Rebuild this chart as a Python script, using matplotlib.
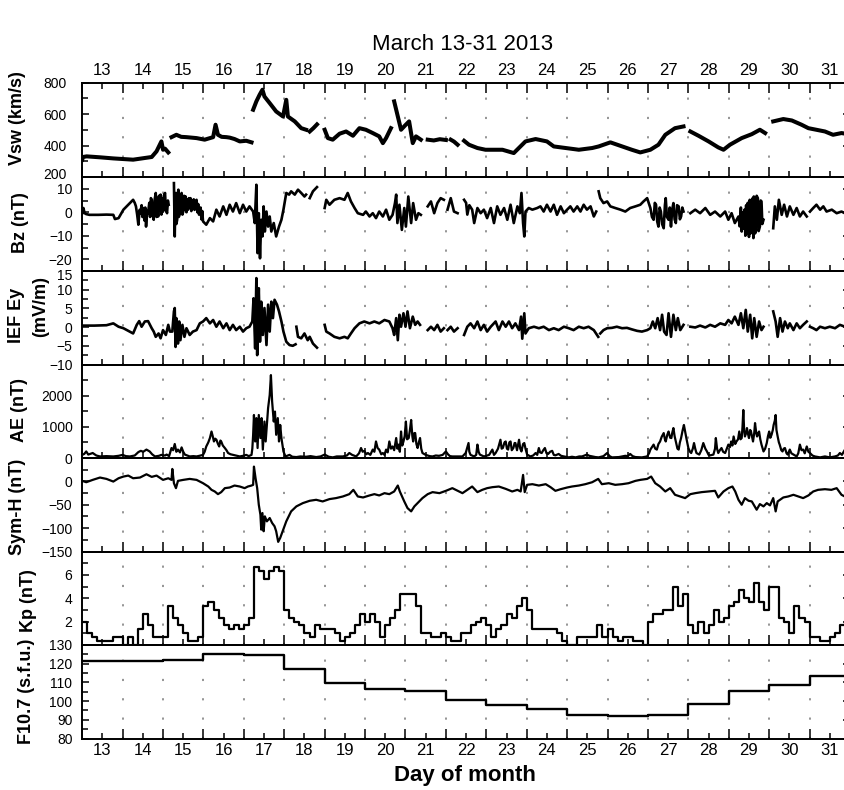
import numpy as np
import matplotlib
matplotlib.use('Agg')
import matplotlib.pyplot as plt
from matplotlib.ticker import MultipleLocator, FixedLocator, FixedFormatter, NullFormatter
from matplotlib.transforms import ScaledTranslation

plt.rcParams['font.family'] = ['Liberation Sans', 'DejaVu Sans']
nan = float('nan')

# ---------------- data (day of March 2013, value) ----------------
vsw_day = [13.0, 13.02, 13.11, 13.44, 13.77, 14.02, 14.26, 14.47, 14.72, 14.84, 14.92, 14.96, 15.0, 15.05, 15.13, 15.17,
           15.21, 15.33, 15.45, 15.58, 15.7, 15.83, 16.03, 16.24, 16.3, 16.36, 16.45, 16.57, 16.65, 16.77, 16.9, 17.06, 17.19, 17.21,
           17.23, 17.31, 17.39, 17.46, 17.51, 17.64, 17.8, 17.97, 18.05, 18.09, 18.26, 18.42, 18.54, 18.58,
           18.63, 18.72, 18.81, 18.9,
           19.0, 19.08, 19.2, 19.37, 19.53, 19.7, 19.86, 20.02, 20.19, 20.35, 20.44, 20.52, 20.64, 20.68,
           20.72, 20.81, 20.89, 21.0, 21.09, 21.18, 21.26, 21.38, 21.45,
           21.55, 21.7, 21.85, 22.0, 22.05, 22.12, 22.2, 22.29, 22.35,
           22.45, 22.57, 22.78, 22.98, 23.15, 23.4, 23.68, 23.97, 24.22, 24.5, 24.67, 24.96, 25.29, 25.62, 25.78, 26.07,
           26.36, 26.6, 26.81, 27.06, 27.26, 27.43, 27.67, 27.88, 27.95,
           28.05, 28.25, 28.5, 28.74, 28.87, 29.03, 29.32, 29.57, 29.77, 29.9, 30.0,
           30.1, 30.35, 30.56, 30.8, 30.97, 31.17, 31.38, 31.58, 31.79, 32.0]
vsw_val = [310, 327, 331, 325, 318, 314, 310, 318, 327, 363, 405, 426, 373, 380, 356, nan,
           453, 468, 455, 453, 450, 447, 437, 453, 532, 468, 455, 453, 450, 441, 426, 430, 420, nan,
           627, 680, 722, 754, 711, 669, 616, 584, 690, 584, 553, 510, 500, nan,
           489, 510, 534, nan,
           500, 447, 437, 475, 489, 462, 510, 500, 479, 458, 415, 447, 510, nan,
           680, 584, 500, 530, 553, 415, 458, 437, nan,
           437, 432, 440, 435, nan, 437, 425, 405, nan,
           430, 405, 384, 373, 373, 373, 352, 426, 441, 426, 394, 384, 373, 384, 394, 420,
           394, 373, 356, 373, 405, 468, 510, 521, nan,
           489, 462, 426, 388, 373, 405, 447, 472, 500, 479, nan,
           553, 568, 559, 532, 510, 500, 489, 468, 479, 470]

bz_day = [13.0, 13.03, 13.06, 13.1, 13.18, 13.4, 13.6, 13.77, 13.81, 13.9, 14.02, 14.1, 14.18, 14.26,
          14.30, 14.33, 14.36, 14.39, 14.42, 14.44, 14.47, 14.49, 14.51, 14.54, 14.56, 14.58, 14.61, 14.63, 14.66, 14.68,
          14.70, 14.72, 14.74, 14.77, 14.79, 14.82, 14.84, 14.86, 14.88, 14.90, 14.92, 14.94, 14.96, 14.98, 15.0, 15.02,
          15.05, 15.07, 15.1, 15.12, 15.14, 15.2,
          15.27, 15.28, 15.29, 15.30, 15.32, 15.33, 15.35, 15.36, 15.38, 15.39, 15.42, 15.43, 15.45, 15.46, 15.48, 15.5,
          15.52, 15.54, 15.56, 15.58, 15.60, 15.62, 15.64, 15.66, 15.68, 15.70, 15.72, 15.74, 15.76, 15.78, 15.80, 15.83,
          15.85, 15.87, 15.89, 15.91, 15.93, 15.95, 15.97, 15.99, 16.07,
          16.16, 16.24, 16.32, 16.4, 16.49, 16.57, 16.65, 16.73, 16.81, 16.9, 16.98, 17.06, 17.14, 17.23, 17.27, 17.31,
          17.34, 17.37, 17.4, 17.43, 17.46, 17.49, 17.52, 17.56, 17.6, 17.64, 17.68, 17.74, 17.8, 17.87, 17.93, 17.98,
          18.05, 18.12, 18.17, 18.26, 18.34, 18.42, 18.5, 18.54, 18.58, 18.63, 18.71, 18.81, 18.9,
          19.0, 19.04, 19.12, 19.24, 19.37, 19.49, 19.57, 19.65, 19.74, 19.82, 19.95, 20.02, 20.11, 20.19, 20.27, 20.35,
          20.44, 20.52, 20.6, 20.68, 20.74, 20.77, 20.8, 20.85, 20.91, 20.97, 21.01, 21.07, 21.14, 21.19, 21.26, 21.32,
          21.38, 21.45, 21.55, 21.63, 21.71, 21.79, 21.87, 21.95, 22.0, 22.04, 22.12, 22.2, 22.29, 22.37,
          22.45, 22.5, 22.53, 22.58, 22.65, 22.7, 22.78, 22.86, 22.94, 23.02, 23.11, 23.19, 23.27, 23.35, 23.44, 23.52,
          23.6, 23.68, 23.77, 23.83, 23.87, 23.91, 23.94, 23.97, 24.05, 24.14, 24.26, 24.34, 24.42, 24.5, 24.59, 24.67,
          24.75, 24.84, 24.92, 25.0, 25.08, 25.16, 25.25, 25.33, 25.41, 25.49, 25.58, 25.66, 25.72, 25.75, 25.78, 25.82,
          25.9, 25.99, 26.07, 26.19, 26.32, 26.44, 26.56, 26.69, 26.81, 26.89, 26.98,
          27.06, 27.1, 27.14, 27.17, 27.2, 27.23, 27.26, 27.29, 27.32, 27.35, 27.39, 27.42, 27.44, 27.47, 27.51, 27.54,
          27.57, 27.6, 27.63, 27.66, 27.69, 27.72, 27.76, 27.79, 27.82, 27.85, 27.88, 27.95,
          28.05, 28.17, 28.29, 28.42, 28.54, 28.66, 28.79, 28.91, 28.99, 29.07, 29.15,
          29.24, 29.27, 29.30, 29.32, 29.34, 29.36, 29.39, 29.41, 29.43, 29.45, 29.47, 29.50, 29.52, 29.54, 29.57, 29.59,
          29.61, 29.62, 29.65, 29.67, 29.69, 29.72, 29.74, 29.77, 29.79, 29.81, 29.83, 29.86, 29.95,
          30.1, 30.14, 30.19, 30.24, 30.31, 30.37, 30.44, 30.51, 30.6, 30.68, 30.76, 30.84, 30.93, 30.97, 31.01, 31.09,
          31.17, 31.26, 31.34, 31.42, 31.55, 31.67, 31.79, 31.87, 32.0]
bz_val = [-0.4, 1.8, -0.4, -0.8, -1.1, -1.1, -1.0, -1.1, -2.9, -2.5, 1.1, 2.5, 3.9, 5.3,
          4.0, 2.5, -1.0, -5.3, 1.0, -0.4, 3.0, -2.0, 1.8, -3.5, 2.0, -6.1, 0.5, -0.4, 4.0, -2.0,
          6.0, 5.3, -1.0, -3.2, 5.0, 8.2, -2.0, 6.0, -1.8, 7.0, 2.0, 7.5, -1.0, 6.0, 0.3, 7.0,
          8.2, 1.0, -0.4, 5.0, 3.2, nan,
          12.4, 2.0, -10.3, 0.0, 8.2, -5.0, -3.2, 6.0, 9.6, -2.0, -0.4, 7.0, 2.0, 8.2, -1.0, 0.3,
          7.0, 1.0, 6.7, 0.0, 5.5, 1.1, 6.0, 2.0, 6.0, 0.5, 5.0, 1.8, 5.5, 1.0, 4.5, 5.3,
          0.0, 3.5, -1.0, -0.4, 2.0, -3.0, 0.5, -3.9, -5.3,
          -2.5, -3.9, 1.1, -1.8, 2.5, -1.1, 3.2, 0.3, 3.9, -0.4, 3.2, 0.3, 2.5, 0.3, -4.6, 11.7,
          -17.4, -0.4, -19.6, -3.2, -10.3, 2.5, -8.2, 0.3, -6.1, -1.8, -8.2, -4.6, -10.3, -6.1, -3.2, 1.1,
          8.2, 7.5, 8.9, 7.5, 9.6, 8.2, 6.7, 7.5, nan, 6.0, 8.9, 10.7, nan,
          1.8, 5.3, 3.2, 5.3, 6.0, 5.3, 8.2, 4.6, 1.8, -0.4, -1.1, 0.3, -1.8, -0.4, -2.5, 0.3,
          -1.8, 1.1, -3.2, -1.1, 3.9, 7.5, -4.6, 3.2, -7.5, 1.8, -6.1, 6.7, -4.6, 3.9, -3.2, -0.4,
          -1.1, nan, 2.5, 4.6, -0.4, 3.9, 6.0, 5.3, nan, 1.1, 6.0, 0.3, -0.4, nan,
          5.3, 4.0, -1.0, 3.0, 1.1, -4.6, 1.8, -0.4, 1.1, -2.5, 1.8, -4.6, 2.5, -1.1, 1.8, -3.2,
          3.2, -4.6, 2.5, -0.4, 8.2, -4.6, -10.3, 0.3, 1.8, 1.1, 1.8, 2.5, 0.3, 3.2, 0.3, 3.2,
          -1.1, 2.5, -0.4, 1.1, 2.5, 0.3, 2.5, 0.3, 3.2, 1.1, 2.5, -1.8, 0.3, nan, 8.9, 6.0,
          3.9, 4.6, 2.5, 1.8, 1.1, 0.3, 1.8, 2.5, 3.2, 4.6, 6.0,
          1.8, -2.0, -3.2, 4.0, 3.2, -4.0, -6.1, 2.0, 0.3, -5.0, -6.8, 3.0, 6.0, -2.0, -3.2, 2.0,
          -6.1, 1.0, 3.9, -3.0, -4.6, 3.0, 2.5, -3.0, -1.8, 2.0, 0.3, nan,
          -0.4, 1.1, -0.4, 1.8, -1.1, 0.3, -1.8, 0.3, -3.2, -0.4, -4.6,
          -1.8, -6.0, 2.0, -8.2, 0.0, -7.0, 1.1, -10.0, 3.0, -8.9, 4.0, -10.5, 5.3, -9.0, -7.5, 6.0,
          -11.0, 6.7, -9.0, -8.2, 7.0, 6.0, -8.0, -6.1, 5.0, 4.6, -5.0, -3.2, nan,
          -6.8, 2.5, -3.2, 5.3, -1.1, 3.2, -1.8, 2.5, -1.1, 1.8, -1.8, 0.3, -1.8, nan, 0.3, 1.8,
          3.2, 1.1, 2.5, 0.3, 1.1, -0.4, 0.3, -0.4, 0.3]

ey_day = [13.0, 13.3, 13.6, 13.77, 13.9, 14.02, 14.14, 14.26, 14.35, 14.41, 14.47, 14.55, 14.63, 14.72, 14.77, 14.82,
          14.89, 14.94, 15.0, 15.07, 15.13, 15.17, 15.23, 15.27, 15.29, 15.31, 15.33, 15.37, 15.4, 15.43, 15.48, 15.53,
          15.58, 15.66, 15.74, 15.83, 15.91, 15.99, 16.07, 16.16, 16.24, 16.32, 16.4, 16.49, 16.57, 16.65, 16.73, 16.81,
          16.9, 16.98, 17.06, 17.14, 17.21, 17.24, 17.28, 17.31, 17.33, 17.37, 17.4, 17.43, 17.47, 17.51, 17.56, 17.6,
          17.64, 17.68, 17.72, 17.76, 17.82, 17.87, 17.93, 17.98, 18.05, 18.13, 18.21, 18.28, 18.29,
          18.3, 18.34, 18.42, 18.5, 18.58, 18.63, 18.71, 18.81, 18.9,
          19.0, 19.04, 19.12, 19.24, 19.37, 19.49, 19.57, 19.65, 19.74, 19.86, 19.98, 20.11, 20.23, 20.35, 20.48, 20.6,
          20.68, 20.72, 20.77, 20.81, 20.85, 20.89, 20.95, 21.0, 21.05, 21.11, 21.18, 21.24, 21.3, 21.36, 21.45,
          21.55, 21.63, 21.71, 21.79, 21.87, 21.95, 22.0, 22.04, 22.12, 22.2, 22.29, 22.37,
          22.45, 22.53, 22.61, 22.7, 22.78, 22.86, 22.94, 23.02, 23.11, 23.23, 23.31, 23.4, 23.48, 23.56, 23.64, 23.72,
          23.81, 23.86, 23.89, 23.94, 23.97, 24.05, 24.18, 24.3, 24.42, 24.55, 24.67, 24.79, 24.92, 25.04, 25.16, 25.29,
          25.41, 25.53, 25.66, 25.77, 25.8, 25.82, 25.9, 25.99, 26.11, 26.23, 26.36, 26.48, 26.6, 26.73, 26.85, 26.98,
          27.06, 27.12, 27.18, 27.24, 27.3, 27.35, 27.4, 27.46, 27.51, 27.57, 27.63, 27.69, 27.74, 27.8, 27.88, 27.95,
          28.05, 28.17, 28.29, 28.42, 28.54, 28.66, 28.79, 28.91, 28.99, 29.07, 29.15, 29.24, 29.3, 29.36, 29.42, 29.47,
          29.53, 29.58, 29.63, 29.69, 29.75, 29.81, 29.86, 29.95,
          30.1, 30.16, 30.21, 30.27, 30.33, 30.39, 30.46, 30.51, 30.6, 30.68, 30.76, 30.84, 30.93, 30.97, 31.01, 31.09,
          31.17, 31.26, 31.38, 31.5, 31.63, 31.75, 31.87, 32.0]
ey_val = [0.4, 0.4, 0.5, 1.0, 0.1, -0.3, -1.0, -1.7, 0.6, 1.6, 0.1, 1.5, 1.6, -0.3, -1.2, -2.6,
          -1.7, -3.0, -0.8, -2.1, 0.6, -1.2, -1.2, 4.2, 5.1, -5.3, 2.4, -4.4, 1.5, -3.5, 0.6, -2.6,
          -0.3, -2.1, -1.2, -0.8, 1.0, 1.5, 2.4, 1.0, 1.9, 0.1, 1.5, -0.3, 1.0, -0.8, 0.6, -0.8,
          0.1, -1.2, -0.3, 0.1, 1.5, 7.7, -5.7, 13.1, -7.5, 10.4, -3.9, 6.8, -2.1, 5.1, -4.8, 6.0,
          -1.2, 6.8, 2.4, 7.3, 6.0, 4.2, 1.5, -1.2, -3.9, -4.8, -5.0, -4.6, nan,
          0.1, -2.6, -3.0, -1.7, -3.5, -2.6, -4.4, -5.5, nan,
          0.6, -1.2, -1.7, -2.6, -3.0, -2.6, -3.0, -1.7, -0.3, 1.0, 1.5, 1.0, 1.5, 1.0, 1.9, 1.5,
          -0.3, -2.1, 2.4, -3.5, 3.3, 0.1, 3.7, 0.1, 4.2, -0.3, 2.8, 0.6, 1.5, 0.6, nan,
          -0.8, 0.1, -0.8, 0.6, -1.2, -0.3, nan, -0.8, 0.1, -1.2, -0.3, nan,
          -2.1, 0.1, 1.0, -0.3, 1.5, -0.8, 0.6, -1.2, 0.1, 1.5, -0.8, 1.5, 0.1, 1.5, -0.3, 1.0,
          -0.8, 2.8, -3.1, 3.7, -1.7, -0.3, 0.1, -0.3, 0.1, -0.8, -0.3, -0.8, 0.1, -0.3, -0.8, 0.1,
          -0.3, 0.1, -0.8, -2.6, nan, -1.7, -0.8, -0.3, -0.2, 0.1, -0.3, -0.2, -0.6, -1.0, -1.2, -0.8,
          -0.3, 1.5, -0.3, 2.4, -0.8, 3.3, -1.2, -2.1, 3.7, -2.6, 3.3, -0.8, 2.4, -0.8, 0.6, nan,
          0.1, -0.1, 0.4, -0.1, 0.6, 0.1, 1.0, 0.6, 1.9, 1.0, 2.8, 0.6, 3.7, -0.3, 4.6, -1.2,
          3.3, -3.0, 2.4, -2.6, 1.5, -0.8, 0.1, nan,
          4.2, 1.5, -2.6, 2.4, -1.2, 1.5, -0.3, 1.0, -0.8, 1.0, -0.3, 0.6, 1.5, nan, 0.1, -0.3,
          -0.8, 0.1, -0.3, 0.1, -0.3, 0.6, 0.1, 0.2]

ae_day = [13.0, 13.05, 13.1, 13.15, 13.26, 13.35, 13.44, 13.6, 13.77, 13.9, 14.0, 14.08, 14.18, 14.3, 14.39, 14.45,
          14.51, 14.59, 14.67, 14.73, 14.8, 14.9, 14.96, 15.05, 15.09, 15.15, 15.21, 15.25, 15.29, 15.33, 15.37, 15.42,
          15.46, 15.5, 15.54, 15.6, 15.66, 15.75, 15.83, 15.9, 15.99, 16.03, 16.07, 16.12, 16.16, 16.2, 16.23, 16.26,
          16.29, 16.32, 16.36, 16.39, 16.42, 16.44, 16.48, 16.53, 16.57, 16.61, 16.67, 16.73, 16.8, 16.9, 16.98, 17.06,
          17.12, 17.19, 17.21, 17.23, 17.25, 17.28, 17.31, 17.34, 17.37, 17.41, 17.44, 17.47, 17.51, 17.54, 17.57, 17.6,
          17.64, 17.67, 17.7, 17.74, 17.77, 17.8, 17.84, 17.87, 17.9, 17.93, 17.98, 18.03, 18.13, 18.2, 18.3, 18.4,
          18.54, 18.65, 18.79, 18.9, 19.0, 19.1, 19.2, 19.3, 19.45, 19.55, 19.61, 19.68, 19.78, 19.85, 19.9, 19.94,
          19.98, 20.03, 20.07, 20.13, 20.19, 20.23, 20.27, 20.31, 20.35, 20.4, 20.44, 20.48, 20.52, 20.56, 20.6, 20.64,
          20.68, 20.72, 20.77, 20.8, 20.83, 20.86, 20.89, 20.92, 20.95, 20.98, 21.01, 21.04, 21.08, 21.11, 21.14, 21.17,
          21.19, 21.22, 21.24, 21.27, 21.3, 21.33, 21.36, 21.39, 21.42, 21.5, 21.6, 21.67, 21.75, 21.83, 21.92, 22.0,
          22.05, 22.1, 22.16, 22.29, 22.41, 22.49, 22.56, 22.58, 22.61, 22.7, 22.75, 22.78, 22.81, 22.84, 22.94, 23.0,
          23.07, 23.15, 23.19, 23.23, 23.29, 23.35, 23.38, 23.41, 23.45, 23.48, 23.51, 23.54, 23.57, 23.6, 23.63, 23.67,
          23.7, 23.72, 23.76, 23.81, 23.84, 23.87, 23.91, 23.94, 23.97, 24.01, 24.09, 24.16, 24.22, 24.26, 24.3, 24.33,
          24.37, 24.41, 24.45, 24.49, 24.53, 24.58, 24.63, 24.67, 24.71, 24.79, 24.85, 24.92, 25.04, 25.12, 25.21, 25.3,
          25.37, 25.49, 25.55, 25.62, 25.7, 25.78, 25.9, 25.99, 26.05, 26.11, 26.28, 26.36, 26.44, 26.5, 26.56, 26.62,
          26.69, 26.85, 26.98, 27.03, 27.06, 27.1, 27.14, 27.18, 27.22, 27.26, 27.3, 27.34, 27.39, 27.42, 27.44, 27.48,
          27.51, 27.55, 27.58, 27.6, 27.63, 27.66, 27.69, 27.73, 27.76, 27.79, 27.82, 27.86, 27.89, 27.92, 27.95, 27.98,
          28.0, 28.04, 28.07, 28.11, 28.14, 28.17, 28.2, 28.27, 28.32, 28.37, 28.42, 28.46, 28.5, 28.54, 28.62, 28.66,
          28.68, 28.71, 28.74, 28.78, 28.82, 28.86, 28.91, 28.95, 28.99, 29.03, 29.06, 29.09, 29.12, 29.16, 29.19, 29.23,
          29.26, 29.29, 29.32, 29.34, 29.36, 29.38, 29.4, 29.43, 29.45, 29.48, 29.5, 29.53, 29.55, 29.58, 29.6, 29.63,
          29.65, 29.68, 29.7, 29.73, 29.75, 29.78, 29.81, 29.86, 29.9, 29.94, 29.97, 30.0, 30.03, 30.06, 30.09, 30.11,
          30.14, 30.16, 30.18, 30.21, 30.24, 30.26, 30.3, 30.33, 30.36, 30.39, 30.43, 30.46, 30.51, 30.55, 30.6, 30.68,
          30.72, 30.76, 30.8, 30.84, 30.88, 30.93, 30.97, 31.01, 31.07, 31.13, 31.26, 31.38, 31.5, 31.63, 31.7, 31.75,
          31.8, 31.87, 31.92, 32.0]
ae_val = [100, 130, 210, 110, 160, 80, 50, 60, 50, 70, 100, 60, 50, 80, 190, 230,
          200, 270, 210, 120, 50, 70, 100, 80, 110, 60, 320, 250, 450, 200, 270, 180,
          340, 200, 110, 80, 50, 60, 50, 70, 100, 200, 370, 500, 640, 850, 700, 530,
          620, 590, 450, 370, 560, 530, 400, 320, 250, 160, 120, 100, 80, 50, 70, 100,
          60, 100, 300, 745, 1380, 530, 1280, 320, 1380, 640, 1280, 270, 1170, 530, 1060, 1600,
          2020, 2660, 1810, 1170, 1490, 745, 1280, 530, 1060, 640, 210, 50, 100, 40, 30, 50,
          40, 60, 30, 50, 110, 40, 20, 50, 50, 80, 160, 100, 50, 150, 320, 200,
          230, 120, 160, 100, 270, 200, 530, 320, 270, 120, 160, 100, 270, 180, 530, 300,
          370, 250, 640, 300, 430, 200, 850, 400, 530, 700, 1170, 600, 640, 900, 1220, 700,
          530, 800, 800, 450, 320, 500, 640, 300, 160, 100, 60, 50, 80, 70, 100, 210,
          120, 60, 50, 50, 50, 160, 480, 200, 100, 50, 100, 430, 200, 110, 50, 70,
          100, 270, 100, 160, 300, 585, 300, 320, 500, 530, 300, 270, 500, 530, 250, 320,
          480, 480, 250, 585, 300, 210, 450, 480, 300, 110, 50, 80, 160, 100, 320, 180,
          160, 250, 320, 150, 130, 200, 230, 100, 85, 130, 70, 50, 20, 40, 20, 50,
          50, 110, 70, 50, 30, 20, 60, 160, 60, 20, 30, 50, 70, 60, 130, 60,
          30, 20, 50, 160, 270, 350, 430, 300, 270, 450, 530, 680, 800, 600, 530, 750,
          850, 650, 640, 800, 960, 700, 530, 300, 270, 500, 640, 900, 1060, 850, 640, 450,
          320, 200, 160, 300, 480, 300, 160, 110, 250, 480, 300, 210, 100, 85, 110, 300,
          640, 300, 160, 250, 320, 200, 160, 300, 430, 350, 530, 400, 690, 450, 530, 600,
          850, 600, 640, 1000, 1540, 900, 690, 800, 960, 750, 640, 900, 850, 650, 530, 800,
          1120, 800, 690, 800, 850, 600, 430, 210, 300, 480, 700, 850, 650, 750, 900, 1060,
          1200, 1380, 900, 690, 500, 430, 250, 210, 300, 320, 150, 110, 270, 150, 110, 50,
          150, 430, 250, 270, 150, 370, 200, 160, 80, 50, 20, 50, 20, 50, 80, 160,
          100, 260, 180, 150]

symh_day = [13.0, 13.1, 13.26, 13.44, 13.6, 13.77, 13.9, 14.02, 14.14, 14.26, 14.43, 14.59, 14.72, 14.84, 15.0, 15.13,
            15.21, 15.23, 15.27, 15.32, 15.37, 15.5, 15.66, 15.83, 15.99, 16.12, 16.2, 16.28, 16.36, 16.44, 16.53, 16.65,
            16.77, 16.9, 17.02, 17.1, 17.19, 17.23, 17.25, 17.29, 17.33, 17.37, 17.41, 17.43, 17.46, 17.49, 17.52, 17.57,
            17.64, 17.7, 17.76, 17.8, 17.85, 17.9, 17.96, 18.05, 18.17, 18.3, 18.46, 18.63, 18.79, 18.95, 19.12, 19.28,
            19.45, 19.61, 19.71, 19.82, 19.95, 20.11, 20.23, 20.35, 20.48, 20.6, 20.72, 20.81, 20.86, 20.97, 21.05, 21.14,
            21.22, 21.3, 21.42, 21.55, 21.67, 21.84, 22.0, 22.16, 22.29, 22.41, 22.53, 22.65, 22.78, 22.9, 23.02, 23.15,
            23.31, 23.48, 23.64, 23.77, 23.85, 23.91, 23.95, 24.01, 24.14, 24.3, 24.47, 24.59, 24.71, 24.84, 25.0, 25.12,
            25.29, 25.45, 25.62, 25.77, 25.86, 26.03, 26.19, 26.36, 26.52, 26.69, 26.81, 26.98, 27.08, 27.18, 27.3, 27.43,
            27.55, 27.67, 27.8, 27.92, 28.05, 28.17, 28.33, 28.5, 28.66, 28.74, 28.87, 28.99, 29.09, 29.16, 29.24, 29.32,
            29.4, 29.49, 29.57, 29.69, 29.77, 29.86, 29.94, 30.02, 30.1, 30.16, 30.21, 30.35, 30.47, 30.6, 30.72, 30.84,
            30.97, 31.09, 31.21, 31.38, 31.54, 31.67, 31.79, 31.87, 32.0]
symh_val = [1.1, -1.8, 3.2, 8.2, 5.3, -0.4, 6.7, 10.3, 12.4, 6.7, 8.2, 15.2, 9.6, 12.4, 3.2, 6.7,
            3.2, 26.6, -3.9, -14.5, 1.1, 3.2, 5.3, 3.2, -3.9, -11.0, -18.1, -21.6, -27.3, -23.0, -14.5, -13.1,
            -8.9, -11.0, -14.5, -11.0, -8.9, -7.4, 31.6, 6.7, -14.5, -50.0, -71.3, -103.2, -67.7, -106.7, -74.8, -85.5,
            -78.4, -89.0, -96.1, -106.7, -129.4, -120.9, -106.7, -85.5, -64.2, -53.5, -46.5, -41.5, -39.4, -42.9, -37.9, -35.8,
            -32.3, -27.3, -18.1, -32.3, -34.4, -30.1, -27.3, -30.1, -25.2, -27.3, -21.6, -8.9, -21.6, -42.9, -57.1, -64.2,
            -53.5, -46.5, -35.8, -27.3, -23.0, -25.2, -20.2, -14.5, -20.2, -25.2, -18.1, -11.0, -23.0, -18.1, -14.5, -12.4,
            -11.0, -16.0, -21.6, -18.1, -21.6, 13.8, -23.0, -7.4, -6.0, -8.9, -6.0, -12.4, -20.2, -16.7, -13.1, -11.0,
            -8.9, -6.0, -1.8, 5.3, -6.0, -3.9, -7.4, -6.0, -3.9, 1.1, 3.2, 5.3, 10.3, -3.9, -11.0, -21.6,
            -14.5, -28.7, -32.3, -35.8, -27.3, -25.2, -23.0, -21.6, -20.2, -34.4, -21.6, -14.5, -11.0, -21.6, -39.4, -50.0,
            -35.8, -41.5, -42.9, -60.6, -48.6, -53.5, -46.5, -51.4, -35.8, -64.2, -42.9, -34.4, -32.3, -28.7, -32.3, -35.8,
            -30.1, -21.6, -18.1, -16.7, -18.1, -14.5, -28.7, -32.3, -30.0]

# Kp, 3-hourly values starting 13.0
kp_val = [2.0, 1.0, 0.67, 0.33, 0.33, 0.33, 0.67, 0.67,
          0.0, 0.67, 0.0, 1.33, 2.67, 1.67, 0.67, 0.67,
          0.67, 3.33, 2.33, 1.67, 1.0, 0.33, 0.33, 0.67,
          3.33, 3.67, 3.0, 2.33, 1.67, 1.33, 1.67, 1.33,
          1.67, 2.33, 6.67, 6.33, 5.67, 6.33, 6.67, 6.33,
          3.0, 2.33, 2.0, 1.67, 1.0, 0.67, 1.67, 1.33,
          1.33, 1.33, 1.0, 0.33, 0.67, 1.0, 1.67, 2.67,
          2.0, 2.67, 2.0, 0.67, 1.67, 2.33, 3.0, 4.33,
          4.33, 4.33, 3.33, 1.0, 1.0, 0.67, 0.67, 1.0,
          0.67, 0.33, 0.33, 1.0, 1.0, 1.67, 2.0, 2.33,
          1.67, 0.67, 1.33, 1.67, 2.67, 2.33, 3.33, 4.0,
          3.0, 1.33, 1.33, 1.33, 1.33, 1.33, 1.0, 0.33,
          0.0, 0.0, 0.67, 0.67, 0.67, 0.67, 1.67, 0.67,
          1.33, 0.67, 0.33, 0.67, 0.67, 0.33, 0.33, 0.0,
          2.0, 2.67, 2.67, 3.0, 3.0, 5.0, 3.33, 4.33,
          1.67, 1.0, 2.0, 1.0, 1.67, 3.0, 2.0, 2.33,
          3.33, 3.67, 4.67, 4.0, 3.67, 5.33, 3.67, 3.0,
          5.0, 5.0, 2.33, 2.0, 1.0, 3.33, 2.33, 2.0,
          0.67, 0.67, 0.33, 0.33, 0.67, 1.0, 1.67, 2.0]

# F10.7 daily values, days 13..31
f107_val = [121.5, 121.5, 122.2, 125.0, 124.5, 117.0, 109.7, 106.7, 105.4, 100.4,
            97.7, 95.6, 92.4, 92.0, 92.7, 98.6, 105.3, 108.5, 113.5]

day_labels = [str(d) for d in range(13, 32)]

# ---------------- layout ----------------
W, H = 845, 790
fig = plt.figure(figsize=(W / 100, H / 100), dpi=100)
X0, X1 = 82.2, 850.0
edges = [82.5, 177, 271, 364.5, 458, 551.5, 645, 738.5]

panels = [
    dict(ylim=(200, 800), major=[200, 400, 600, 800], minor=100, pad=11),
    dict(ylim=(-25, 15), major=[-20, -10, 0, 10], minor=5, pad=7),
    dict(ylim=(-10, 15), major=[-10, -5, 0, 5, 10, 15], minor=2.5, pad=7),
    dict(ylim=(0, 3000), major=[0, 1000, 2000], minor=500, pad=7),
    dict(ylim=(-150, 50), major=[-150, -100, -50, 0], minor=25, pad=7),
    dict(ylim=(0, 8), major=[2, 4, 6], minor=1, pad=7),
    dict(ylim=(80, 130), major=[80, 90, 100, 110, 120, 130], minor=5, pad=7),
]

axes = []
n = len(panels)
for i, p in enumerate(panels):
    top, bot = edges[i], edges[i + 1]
    ax = fig.add_axes([X0 / W, 1 - bot / H, (X1 - X0) / W, (bot - top) / H])
    ax.set_xlim(13, 32)
    ax.set_ylim(*p['ylim'])
    ax.xaxis.set_major_locator(MultipleLocator(1))
    ax.xaxis.set_major_formatter(NullFormatter())
    ax.xaxis.set_minor_locator(FixedLocator(np.arange(13.5, 32, 1)))
    ax.xaxis.set_minor_formatter(FixedFormatter(day_labels))
    ax.yaxis.set_major_locator(FixedLocator(p['major']))
    ax.yaxis.set_minor_locator(MultipleLocator(p['minor']))
    ax.tick_params(axis='x', which='major', direction='in', length=7, width=1.1)
    ax.tick_params(axis='x', which='minor', direction='in', length=4, width=1.1, labelsize=12, pad=3)
    ax.tick_params(axis='x', which='both', top=(i == 0), bottom=True,
                   labeltop=(i == 0), labelbottom=(i == n - 1))
    ax.tick_params(axis='y', which='major', direction='in', length=5, width=1.1, labelsize=10,
                   left=True, right=True, pad=p['pad'])
    ax.tick_params(axis='y', which='minor', direction='in', length=4, width=1.1, left=True, right=True)
    for s in ax.spines.values():
        s.set_linewidth(1.4)
    for d in range(14, 32):
        ax.axvline(d, color='#8c8c8c', lw=1.3, ls=(0, (1.2, 9.5)), zorder=0)
    ax.patch.set_alpha(0)
    axes.append(ax)

a_vsw, a_bz, a_ey, a_ae, a_sym, a_kp, a_f = axes
a_vsw.plot(vsw_day, vsw_val, color='black', lw=2.9, solid_joinstyle='round')
a_bz.plot(bz_day, bz_val, color='black', lw=1.9)
a_ey.plot(ey_day, ey_val, color='black', lw=1.9)
a_ae.plot(ae_day, ae_val, color='black', lw=1.6)
a_sym.plot(symh_day, symh_val, color='black', lw=1.6)

kp_t = 13 + 0.125 * np.arange(len(kp_val) + 1)
a_kp.step(kp_t, kp_val + [kp_val[-1]], where='post', color='black', lw=1.6)

f_t = np.arange(13, 13 + len(f107_val) + 1)
a_f.step(f_t, f107_val + [f107_val[-1]], where='post', color='black', lw=1.7)

# nudge the crowded edge labels apart a little (as in the original, they sit close together)
fig.canvas.draw()
def nudge(ax, value, dy_pt):
    for t in ax.yaxis.get_major_ticks():
        if abs(t.get_loc() - value) < 1e-9:
            t.label1.set_transform(t.label1.get_transform() +
                                   ScaledTranslation(0, dy_pt / 72, fig.dpi_scale_trans))
nudge(a_vsw, 200, 2.5)
nudge(a_ey, 15, -2.5)

# ---------------- texts ----------------
def ftxt(x, y, s, **kw):
    fig.text(x / W, 1 - y / H, s, ha='center', va='center', **kw)

ftxt(463, 45, 'March 13-31 2013', fontsize=16)
ftxt(465, 775, 'Day of month', fontsize=16, fontweight='bold')
lab = dict(rotation=90, fontsize=13, fontweight='bold')
ftxt(18, 118, 'Vsw (km/s)', **lab)
ftxt(21, 223, 'Bz (nT)', **lab)
ftxt(17, 315, 'IEF Ey', **lab)
ftxt(41, 306, '(mV/m)', **lab)
ftxt(20, 410, 'AE (nT)', **lab)
ftxt(18, 507, 'Sym-H (nT)', **lab)
ftxt(29, 601, 'Kp (nT)', **lab)
ftxt(27, 691, 'F10.7 (s.f.u.)', **lab)

fig.savefig('out.png', dpi=100)
